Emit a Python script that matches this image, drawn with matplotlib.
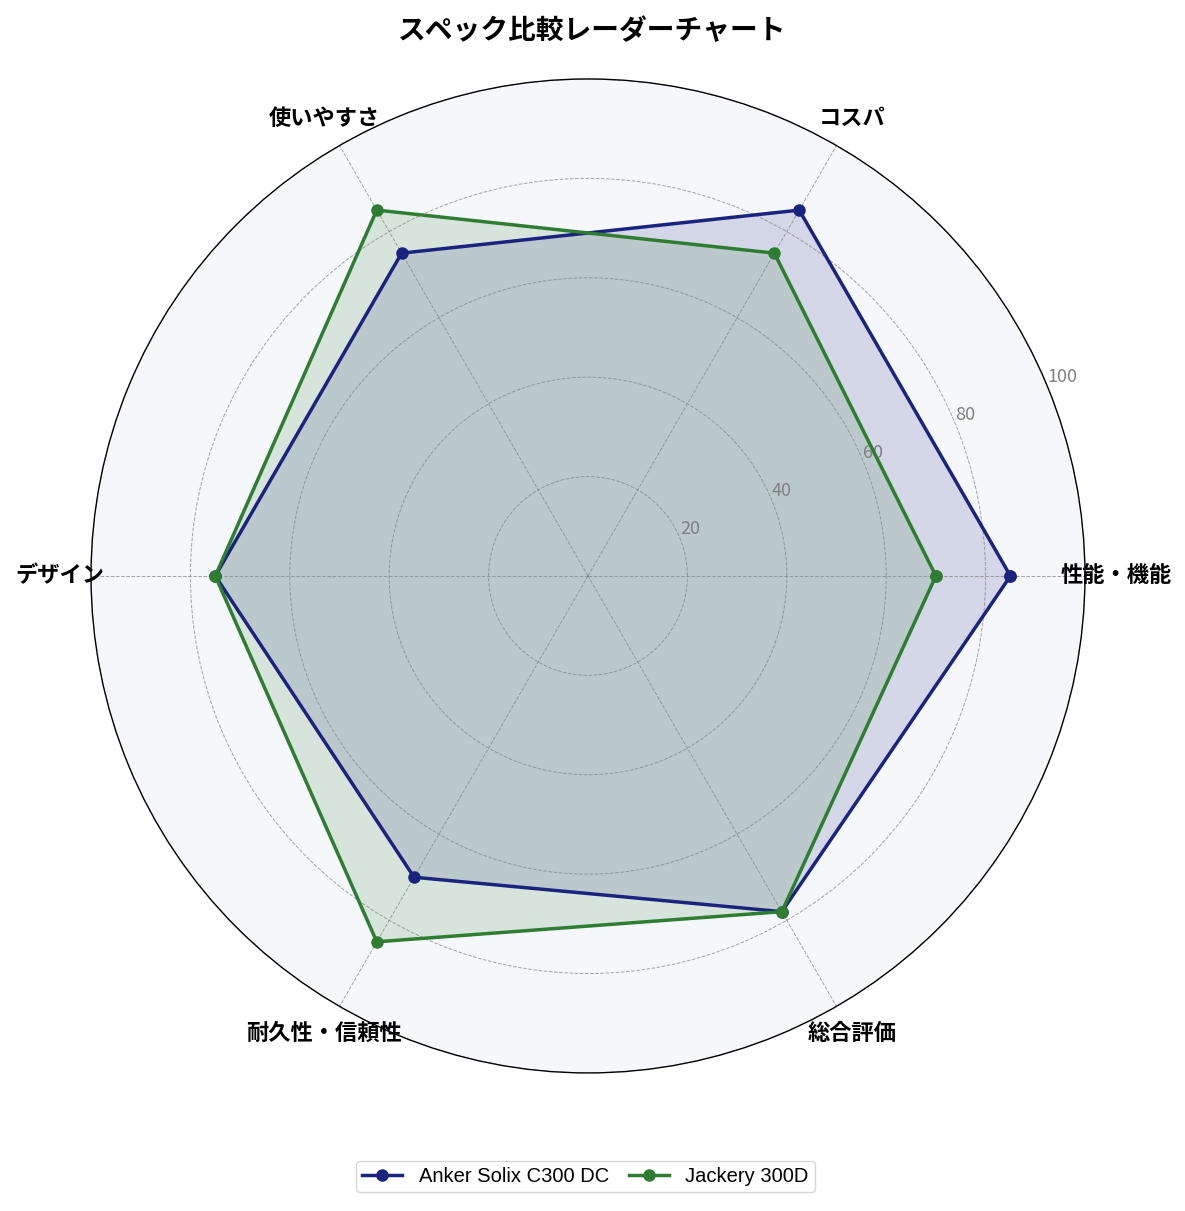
import numpy as np
import matplotlib
matplotlib.use("Agg")
import matplotlib.pyplot as plt

plt.rcParams['font.family'] = ['Noto Sans CJK JP', 'DejaVu Sans']

categories = ["性能・機能", "コスパ", "使いやすさ", "デザイン", "耐久性・信頼性", "総合評価"]
anker = [85, 85, 75, 75, 70, 78]
jackery = [70, 75, 85, 75, 85, 78]
series_names = ["Anker Solix C300 DC", "Jackery 300D"]
colors = ["#1a237e", "#2e7d32"]
r_ticks = [20, 40, 60, 80, 100]

n = len(categories)
angles = np.linspace(0, 2 * np.pi, n, endpoint=False).tolist()
angles_closed = angles + angles[:1]

fig = plt.figure(figsize=(11.85, 12.11), dpi=100)
ax = fig.add_axes([0.0768, 0.114, 0.8388, 0.8208], projection='polar')
ax.set_facecolor("#f5f7fa")

for vals, name, c in zip([anker, jackery], series_names, colors):
    v = vals + vals[:1]
    ax.plot(angles_closed, v, color=c, linewidth=2.5, marker='o', markersize=8, label=name)
    ax.fill(angles_closed, v, color=c, alpha=0.15)

ax.set_ylim(0, 100)
ax.set_xticks(angles)
ax.set_xticklabels(categories, fontsize=16, fontweight='bold')
ax.tick_params(axis='x', pad=12)
ax.set_yticks(r_ticks)
ax.set_yticklabels([str(t) for t in r_ticks], fontsize=13, color='gray')
ax.set_rlabel_position(22.5)
ax.grid(True, linestyle='--', linewidth=0.7, color='gray', alpha=0.7)
ax.spines['polar'].set_color('black')
ax.spines['polar'].set_linewidth(1.0)

fig.suptitle("スペック比較レーダーチャート", fontsize=20, fontweight='bold', y=0.986)
fig.legend(loc='lower center', ncol=2, bbox_to_anchor=(0.494, 0.007),
           prop={'family': ['Liberation Sans', 'DejaVu Sans'], 'size': 14.5},
           handlelength=2.0, columnspacing=1.0, handletextpad=0.8, borderpad=0.3)

fig.savefig("out.png", dpi=100)
